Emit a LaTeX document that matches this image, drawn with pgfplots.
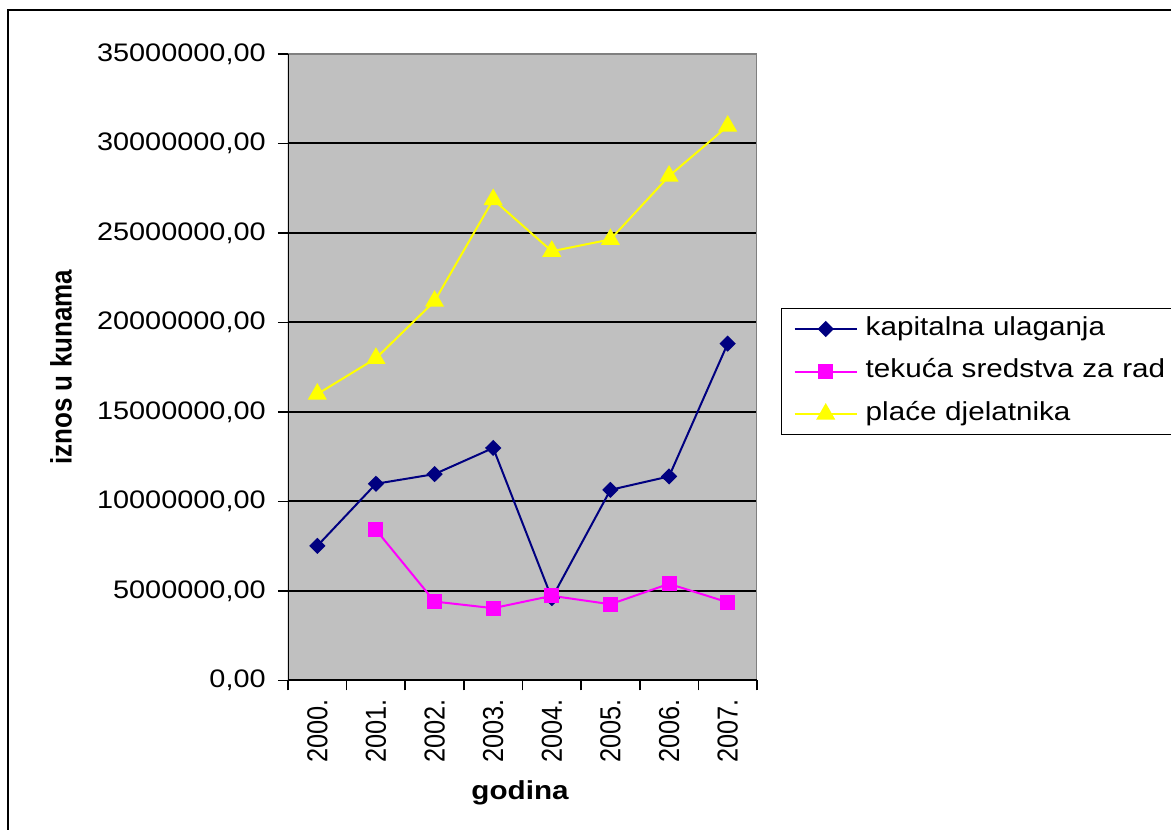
\documentclass[border=0pt]{standalone}
\usepackage{fontspec}
\setmainfont{Liberation Sans}[FakeStretch=1.14]
\newfontfamily\rotfont{Liberation Sans}
\usepackage{pgfplots}
\pgfplotsset{compat=1.18}
\definecolor{bggray}{HTML}{C0C0C0}
\definecolor{bordergray}{HTML}{808080}
\definecolor{navyc}{HTML}{000080}
\definecolor{magc}{HTML}{FF00FF}
\definecolor{yelc}{HTML}{FFFF00}
\begin{document}
\begin{tikzpicture}
\useasboundingbox (0,0) rectangle (878.25pt,622.5pt);
\clip (0,0) rectangle (878.25pt,622.5pt);
\draw[line width=1.5pt] (6pt,-10pt) rectangle (900pt,615pt);
\begin{axis}[
  at={(216pt,112.125pt)}, anchor=south west,
  scale only axis, width=351.75pt, height=469.875pt,
  xmin=-0.5, xmax=7.5, ymin=0, ymax=35000000,
  scaled y ticks=false,
  axis background/.style={fill=bggray},
  axis line style={draw=none},
  ytick={0,5000000,10000000,15000000,20000000,25000000,30000000,35000000},
  yticklabels={{0,00},{5000000,00},{10000000,00},{15000000,00},{20000000,00},{25000000,00},{30000000,00},{35000000,00}},
  ymajorgrids, grid style={black, line width=1.5pt},
  xtick={-0.5,0.5,1.5,2.5,3.5,4.5,5.5,6.5,7.5}, xticklabels={},
  extra x ticks={0,1,2,3,4,5,6,7},
  extra x tick labels={2000.,2001.,2002.,2003.,2004.,2005.,2006.,2007.},
  extra x tick style={major tick length=0pt, tick style={draw=none}, grid=none,
     xticklabel style={font=\rotfont\fontsize{19}{22}\selectfont, rotate=90, anchor=east, yscale=1.14},
     xticklabel shift=10.5pt},
  xtick pos=bottom, ytick pos=left,
  tick align=outside, major tick length=7.5pt,
  tick style={black, line width=1.2pt},
  yticklabel style={font=\fontsize{19}{22}\selectfont},
  yticklabel shift=5.7pt,
  xlabel={godina},
  xlabel style={at={(axis description cs:0.4947,-0.1796)}, anchor=center, font=\bfseries\fontsize{19.5}{23}\selectfont},
  ylabel={iznos u kunama},
  ylabel style={at={(axis description cs:-0.484,0.5)}, anchor=center, yscale=1.14, font=\rotfont\bfseries\fontsize{19.5}{23}\selectfont},
  legend style={at={(axis description cs:1.0512,0.5946)}, anchor=north west, draw=black, line width=1.1pt, fill=white,
     font=\fontsize{19.5}{22}\selectfont, inner xsep=9pt, inner ysep=6pt, row sep=13.4pt,
     nodes={inner xsep=0pt, inner ysep=0pt, text height=14pt, text depth=4.5pt, text width=250pt},
     /tikz/every odd column/.append style={column sep=6pt}},
  legend cell align=left,
  legend image code/.code={\draw[mark repeat=2,mark phase=2] plot coordinates {(0pt,0pt) (23.25pt,0pt) (46.5pt,0pt)};},
]
\addplot[navyc, line width=1.5pt, mark=diamond*, mark size=5pt, mark options={solid, fill=navyc, draw=navyc, xscale=1.35}]
  coordinates {(0,7520000) (1,10990000) (2,11530000) (3,12990000) (4,4600000) (5,10650000) (6,11400000) (7,18820000)};
\addplot[magc, line width=1.5pt, mark=square*, mark size=4.9pt, mark options={solid, fill=magc, draw=magc}]
  coordinates {(1,8420000) (2,4410000) (3,4040000) (4,4730000) (5,4260000) (6,5400000) (7,4370000)};
\addplot[yelc, line width=1.5pt, mark=triangle*, mark size=6.8pt, mark options={solid, fill=yelc, draw=yelc}]
  coordinates {(0,16000000) (1,18000000) (2,21190000) (3,26870000) (4,23980000) (5,24640000) (6,28180000) (7,30970000)};
\legend{kapitalna ulaganja, tekuća sredstva za rad, plaće djelatnika}
\draw[bordergray, line width=1.4pt] (rel axis cs:0,1) -- (rel axis cs:1,1) -- (rel axis cs:1,0);
\draw[black, line width=1.5pt] (rel axis cs:0,1) -- (rel axis cs:0,0) -- (rel axis cs:1,0);
\end{axis}
\end{tikzpicture}
\end{document}
